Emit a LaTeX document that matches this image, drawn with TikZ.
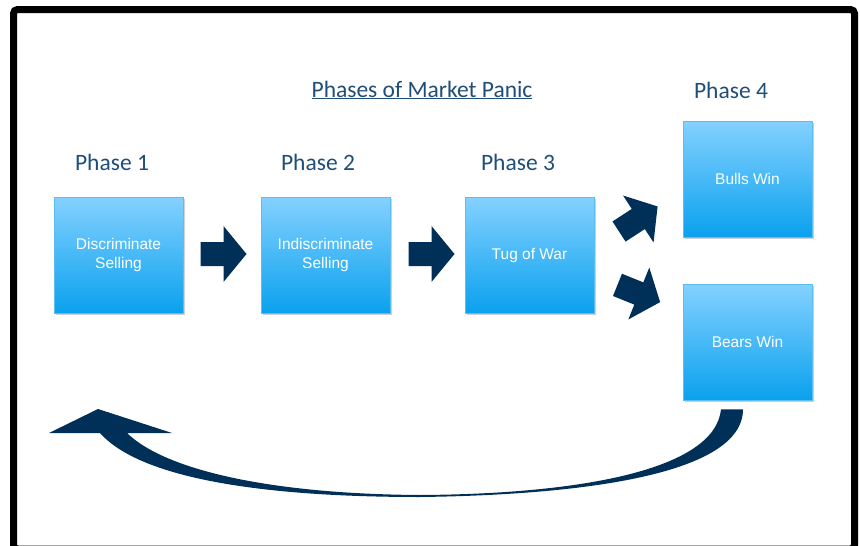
\documentclass[tikz,border=0pt]{standalone}
\usepackage{fontspec}
\setmainfont{Liberation Sans}
\newfontfamily\headfont{Carlito}
\usetikzlibrary{calc,shadows}
\definecolor{navy}{HTML}{003057}
\definecolor{headblue}{HTML}{1F4E79}
\definecolor{boxtop}{HTML}{84D1FF}
\definecolor{boxbot}{HTML}{0AA1EE}
\definecolor{boxedge}{HTML}{5CBDF2}
\tikzset{
  phasebox/.style={minimum width=129pt, minimum height=116pt, inner sep=2pt,
    top color=boxtop, bottom color=boxbot, draw=boxedge, line width=0.6pt,
    text=white, align=center, font=\fontsize{15.5}{19.5}\selectfont,
    drop shadow={shadow xshift=1.5pt, shadow yshift=-1.5pt, opacity=0.3, fill=black!60}},
  phaselabel/.style={text=headblue, font=\headfont\fontsize{23.5}{28}\selectfont, inner sep=0pt},
  pics/blockarrow/.style={code={
    \fill[navy] (-23,-12) -- (0,-12) -- (0,-28) -- (23,0) -- (0,28) -- (0,12) -- (-23,12) -- cycle;
  }}
}
\begin{document}
\begin{tikzpicture}[x=1pt,y=-1pt]
\useasboundingbox (0,0) rectangle (860,546);
\fill[white] (0,0) rectangle (860,546);
% outer frame
\draw[line width=7pt, rounded corners=4pt] (13.5,9.5) rectangle (854.5,549);

% title and phase labels
\node[phaselabel] (title) at (422,90) {\underline{Phases of Market Panic}};
\node[phaselabel] (p1) at (112,162) {Phase 1};
\node[phaselabel] (p2) at (318,162) {Phase 2};
\node[phaselabel] (p3) at (518,162) {Phase 3};
\node[phaselabel] (p4) at (731,90) {Phase 4};

% phase boxes
\node[phasebox] (b1) at (118.5,255) {Discriminate\\Selling};
\node[phasebox] (b2) at (325.5,255) {Indiscriminate\\Selling};
\node[phasebox] (b3) at (529.5,255) {Tug of War};
\node[phasebox] (b4) at (747.5,179) {Bulls Win};
\node[phasebox] (b5) at (747.5,342) {Bears Win};

% block arrows between the phases
\pic at ($(b1.east)!0.5!(b2.west)+(1.5,-1)$) {blockarrow};
\pic at ($(b2.east)!0.5!(b3.west)+(4,-1)$) {blockarrow};
\pic[rotate=33] at ($(b3.east)+(44,-36)$) {blockarrow};
\pic[rotate=-22] at ($(b3.east)+(44.5,38.5)$) {blockarrow};

% curved return arrow from the last phase back to the first
\coordinate (rin) at ($(b5.south)+(-26.5,9)$);
\coordinate (rout) at ($(b5.south)+(-4.5,9)$);
\fill[navy] (rin) -- (rout)
  .. controls (743,475) and (580,495) .. (420,497)
  .. controls (260,497) and (140,478) .. (100,433)
  -- (49,433) -- (98,409) -- (172,433) -- (127,433)
  .. controls (165,470) and (270,494) .. (420,495)
  .. controls (580,494) and (715,470) .. (rin) -- cycle;
\end{tikzpicture}
\end{document}
